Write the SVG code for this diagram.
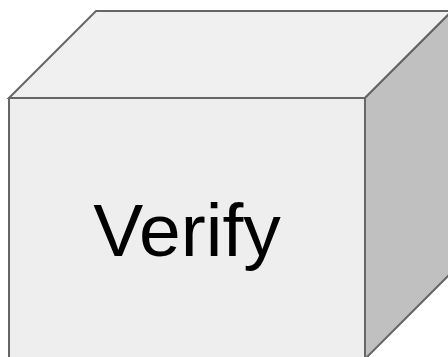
<svg xmlns="http://www.w3.org/2000/svg" width="448" height="357" viewBox="0 0 448 357">
<style>
.edge{stroke:#666666;stroke-width:2;stroke-linejoin:miter}
.lbl{font-family:"Liberation Sans",Arial,sans-serif;font-size:75px;fill:#000000}
</style>
<rect width="448" height="357" fill="#ffffff"/>
<g id="verify">
<polygon class="edge" points="9,98 96,11 452,11 365,98" fill="#f0f0f0"/>
<polygon class="edge" points="365,98 452,11 452,272 365,359" fill="#c0c0c0"/>
<rect class="edge" x="9" y="98" width="356" height="261" fill="#eeeeee"/>
<text class="lbl" x="187" y="256" text-anchor="middle">Verify</text>
</g>
<g id="connectors"/>
</svg>
